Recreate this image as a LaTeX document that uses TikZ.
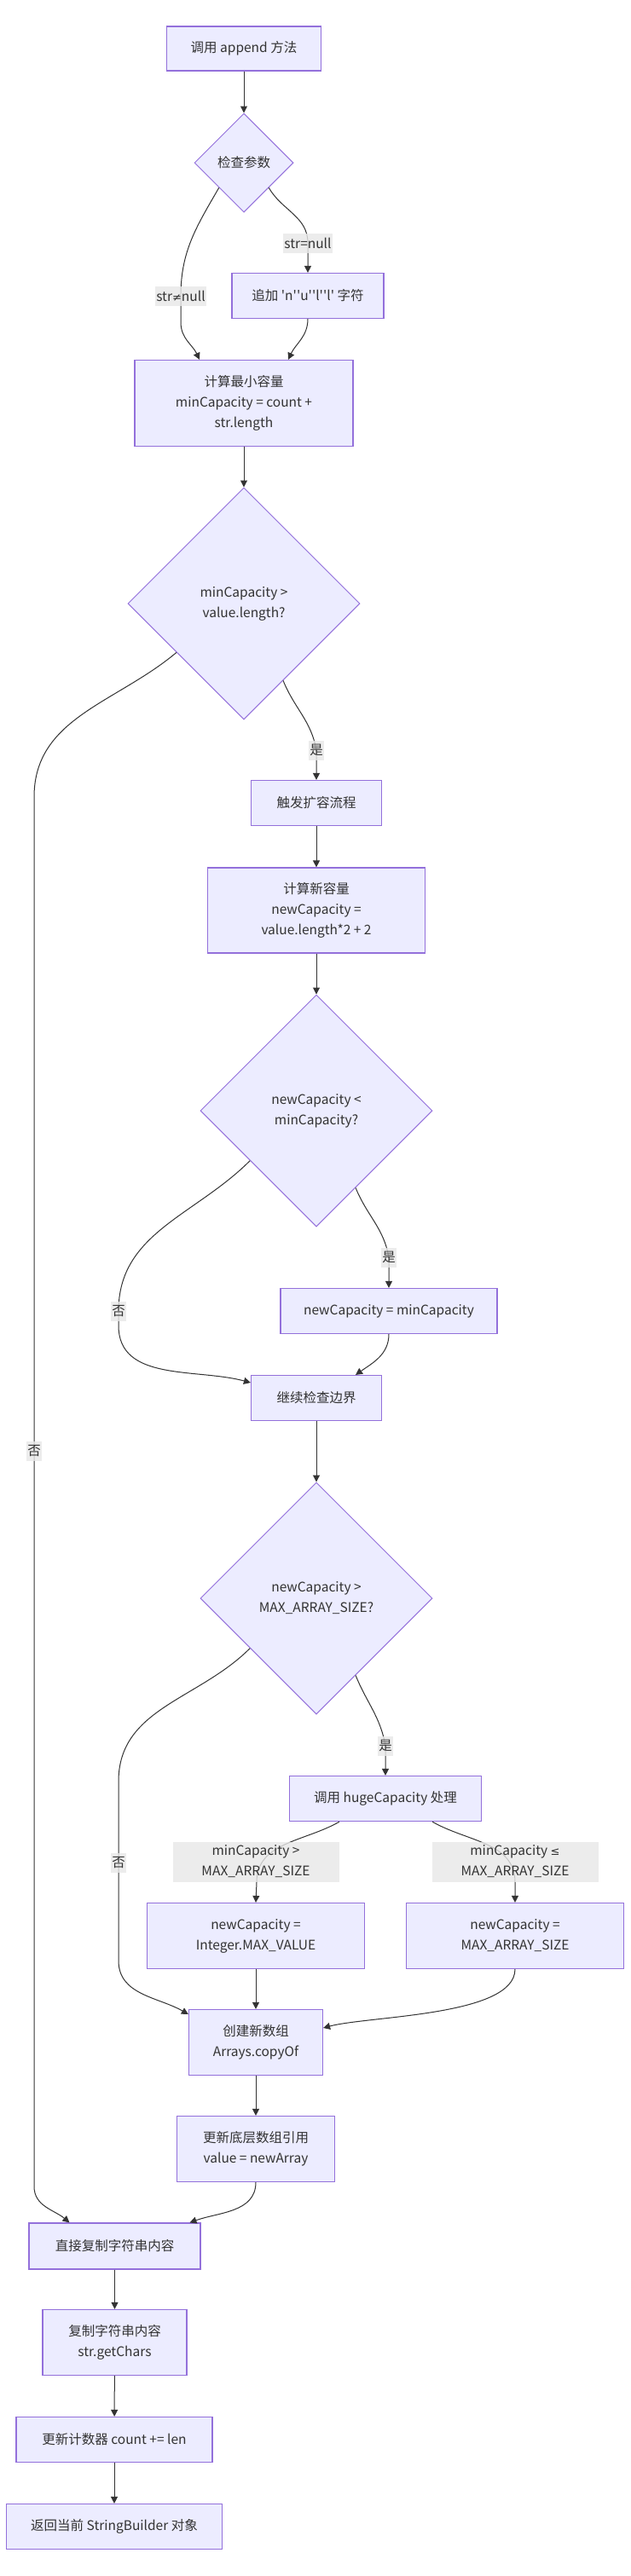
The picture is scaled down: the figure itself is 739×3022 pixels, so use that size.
\documentclass[tikz,border=0pt]{standalone}
\usepackage{fontspec}
\setmainfont{Noto Sans CJK SC}[Ligatures=TeXOff]
\newfontfamily\symfont{DejaVu Sans}
\usepackage{tikz}
\usetikzlibrary{shapes,arrows.meta}
\definecolor{boxfill}{HTML}{ECECFF}
\definecolor{boxline}{HTML}{9370DB}
\definecolor{ink}{HTML}{333333}
\definecolor{lblbg}{HTML}{E8E8E8}
\tikzstyle{proc}=[rectangle,draw=boxline,fill=boxfill,line width=1.2pt,text=ink,align=center,inner sep=0pt]
\tikzstyle{dec}=[diamond,aspect=1,draw=boxline,fill=boxfill,line width=1pt,text=ink,align=center,inner sep=0pt]
\tikzstyle{elbl}=[rectangle,fill=lblbg,fill opacity=0.8,text opacity=1,text=ink,align=center,inner xsep=1pt,inner ysep=0pt,minimum height=23pt]
\tikzstyle{flow}=[draw=ink,line width=1pt,-{Triangle[length=8pt,width=8pt]}]
\newcommand{\procbox}[6]{
  \node[proc,minimum width=#4pt,minimum height=#5pt] (#1) at (#2,#3) {#6};
}
\newcommand{\flowdown}[2]{
  \draw[flow] (#1) -- (#2);
}

\begin{document}
\begin{tikzpicture}[x=1pt,y=-1pt,font=\fontsize{15.5}{24}\selectfont]
\path[use as bounding box,fill=white] (0,0) rectangle (739,3022);

% boxes
\procbox{A}{286}{57}{181}{52}{调用 append 方法}
\node[dec,minimum size=116pt] (B) at (286,191) {检查参数};
\procbox{C}{361}{347}{178}{53}{追加 'n''u''l''l' 字符}
\procbox{D}{286}{473}{256}{101}{计算最小容量\\minCapacity = count +\\str.length}
\node[dec,minimum size=272pt] (E) at (286,708) {minCapacity >\\value.length?};
\procbox{F}{371}{942}{153}{53}{触发扩容流程}
\procbox{G}{371}{1068}{255}{100}{计算新容量\\newCapacity =\\value.length*2 + 2}
\node[dec,minimum size=272pt] (H) at (371,1303) {newCapacity <\\minCapacity?};
\procbox{I}{456}{1538}{254}{53}{newCapacity = minCapacity}
\procbox{J}{371}{1640}{153}{53}{继续检查边界}
\node[dec,minimum size=272pt] (K) at (371,1875) {newCapacity >\\MAX\_ARRAY\_SIZE?};
\procbox{L}{452}{2110}{225}{53}{调用 hugeCapacity 处理}
\procbox{M}{300}{2271}{255}{77}{newCapacity =\\Integer.MAX\_VALUE}
\procbox{N}{604}{2271}{255}{77}{newCapacity =\\MAX\_ARRAY\_SIZE}
\procbox{O}{300}{2396}{157}{77}{创建新数组\\Arrays.copyOf}
\procbox{P}{300}{2521}{185}{77}{更新底层数组引用\\value = newArray}
\procbox{Q}{134.5}{2635}{201}{54}{直接复制字符串内容}
\procbox{R}{134.5}{2748}{169}{77}{复制字符串内容\\str.getChars}
\procbox{S}{134}{2862}{230}{53}{更新计数器 count += len}
\procbox{T}{134}{2964}{253}{53}{返回当前 StringBuilder 对象}

% bends
\coordinate (v1) at (361,285);
\coordinate (v2) at (212,347);
\coordinate (v2b) at (212,378);
\coordinate (v3) at (371,880);
\coordinate (v4a) at (40,935);
\coordinate (v4b) at (40,2565);
\coordinate (v5) at (456,1475);
\coordinate (v6) at (139,1538);
\coordinate (v6b) at (139,1555);
\coordinate (v7) at (452,2048);
\coordinate (v8a) at (139,2090);
\coordinate (v8b) at (139,2300);
\coordinate (v9) at (301,2208);
\coordinate (v10) at (604,2208);

% arrows
\flowdown{A}{B}
\draw[flow] (B.south east) to[out=-60,in=90] (v1) -- (C.north);
\draw[flow] (B.south west) to[out=-120,in=90] (v2) -- (v2b) to[out=-90,in=115] ([xshift=-52pt]D.north);
\draw[flow] (C.south) to[out=-90,in=65] ([xshift=52pt]D.north);
\flowdown{D}{E}
\draw[flow] (E.-63) to[out=-68,in=100] (v3) -- (F.north);
\draw[flow] (E.216) to[out=-140,in=90] (v4a) -- (v4b) to[out=-90,in=140] ([xshift=-53pt]Q.north);
\flowdown{F}{G}
\flowdown{G}{H}
\draw[flow] (H.-63) to[out=-68,in=100] (v5) -- (I.north);
\draw[flow] (H.217) to[out=-135,in=90] (v6) -- (v6b) to[out=-90,in=165] ([yshift=18pt]J.west);
\draw[flow] (I.south) to[out=-90,in=35] ([xshift=46pt]J.north);
\flowdown{J}{K}
\draw[flow] (K.-63) to[out=-68,in=100] (v7) -- (L.north);
\draw[flow] (K.217) to[out=-135,in=90] (v8a) -- (v8b) to[out=-90,in=150] ([yshift=33pt]O.west);
\draw[flow] ([xshift=-54pt]L.south) to[out=-150,in=90] (v9) -- (M.north);
\draw[flow] ([xshift=55pt]L.south) to[out=-30,in=90] (v10) -- (N.north);
\flowdown{M}{O}
\draw[flow] (N.south) to[out=-90,in=15,looseness=0.6] ([yshift=17pt]O.east);
\flowdown{O}{P}
\draw[flow] (P.south) to[out=-90,in=20] ([xshift=88pt]Q.north);
\flowdown{Q}{R}
\flowdown{R}{S}
\flowdown{S}{T}

% labels
\node[elbl] (l1) at (v1) {str=null};
\node[elbl] (l2) at (v2) {str{\symfont\fontsize{13}{24}\selectfont ≠}null};
\node[elbl] (l3) at (v3) {是};
\node[elbl] (l4) at (40,1702) {否};
\node[elbl] (l5) at (v5) {是};
\node[elbl] (l6) at (v6) {否};
\node[elbl] (l7) at (v7) {是};
\node[elbl] (l8) at (139,2185) {否};
\node[elbl,minimum width=195pt,minimum height=47pt] (l9) at (300,2184) {minCapacity >\\MAX\_ARRAY\_SIZE};
\node[elbl,minimum width=195pt,minimum height=47pt] (l10) at (604,2184) {minCapacity {\symfont\fontsize{13}{24}\selectfont ≤}\\MAX\_ARRAY\_SIZE};

\end{tikzpicture}
\end{document}
